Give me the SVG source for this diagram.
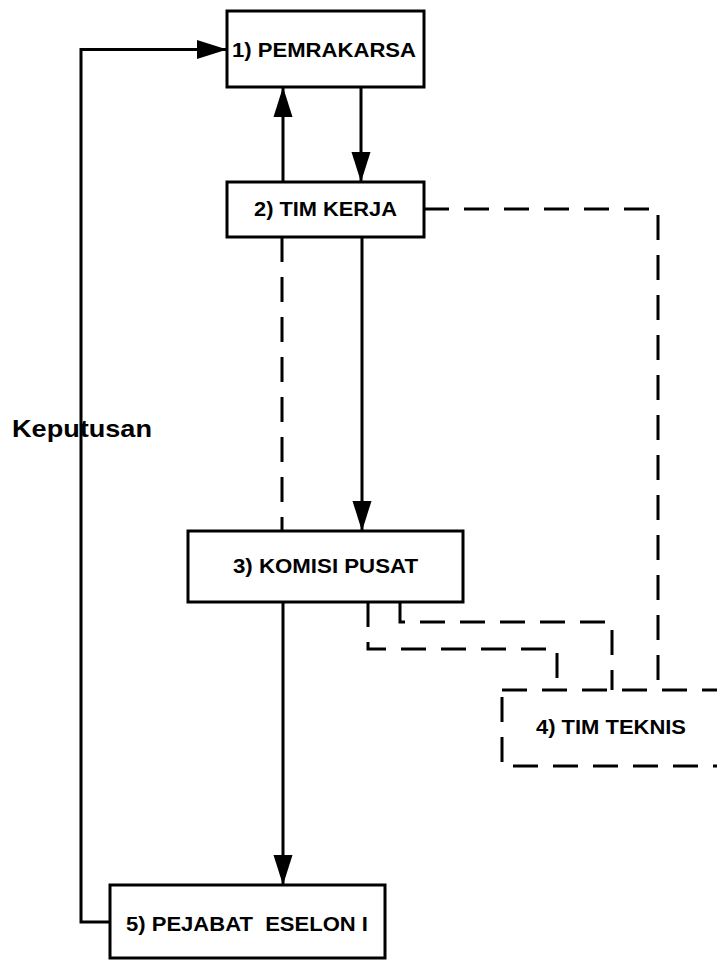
<svg xmlns="http://www.w3.org/2000/svg" width="717" height="961" viewBox="0 0 717 961">
  <style>
    .box { fill: #ffffff; stroke: #000000; stroke-width: 3; }
    .dbox { fill: #ffffff; stroke: #000000; stroke-width: 3; stroke-dasharray: 25 15; }
    .lbl { font-family: "Liberation Sans", Arial, sans-serif; font-weight: bold; font-size: 20px; fill: #000000; text-anchor: middle; }
    .big { font-size: 24px; }
    .line { fill: none; stroke: #000000; stroke-width: 3; }
    .dash { fill: none; stroke: #000000; stroke-width: 3; stroke-dasharray: 25 15; }
  </style>
  <defs>
    <marker id="arrow" markerUnits="userSpaceOnUse" markerWidth="32" markerHeight="22" refX="30" refY="10" orient="auto">
      <path d="M0,0.5 L30,10 L0,19.5 Z" fill="#000000"/>
    </marker>
  </defs>
  <rect width="717" height="961" fill="#ffffff"/>

  <!-- connectors -->
  <g id="connectors">
    <path class="line" d="M110,922 H81 V49.5 H227" marker-end="url(#arrow)"/>
    <path class="line" d="M283,237 V87" marker-end="url(#arrow)"/>
    <path class="line" d="M361,87 V182" marker-end="url(#arrow)"/>
    <path class="line" d="M362,237 V531" marker-end="url(#arrow)"/>
    <path class="dash" d="M282,237 V531"/>
    <path class="line" d="M283,602 V885" marker-end="url(#arrow)"/>
    <path class="dash" d="M424,209 H658 V690"/>
    <path class="dash" d="M368,602 V649 H557 V690"/>
    <path class="dash" d="M400,602 V622 H612 V690"/>
  </g>

  <g id="label-keputusan">
    <text class="lbl big" x="82" y="437" textLength="140" lengthAdjust="spacingAndGlyphs">Keputusan</text>
  </g>

  <g id="node-pemrakarsa">
    <rect class="box" x="227" y="11" width="197" height="76"/>
    <text class="lbl" x="324" y="57" textLength="184" lengthAdjust="spacingAndGlyphs">1) PEMRAKARSA</text>
  </g>

  <g id="node-tim-kerja">
    <rect class="box" x="227" y="182" width="197" height="55"/>
    <text class="lbl" x="325.5" y="216" textLength="143" lengthAdjust="spacingAndGlyphs">2) TIM KERJA</text>
  </g>

  <g id="node-komisi-pusat">
    <rect class="box" x="188" y="531" width="275" height="71"/>
    <text class="lbl" x="325.5" y="573" textLength="185" lengthAdjust="spacingAndGlyphs">3) KOMISI PUSAT</text>
  </g>

  <g id="node-tim-teknis">
    <rect class="dbox" x="502" y="690" width="240" height="76"/>
    <text class="lbl" x="611" y="734" textLength="150" lengthAdjust="spacingAndGlyphs">4) TIM TEKNIS</text>
  </g>

  <g id="node-pejabat-eselon">
    <rect class="box" x="110" y="885" width="275" height="73"/>
    <text class="lbl" x="247" y="931" textLength="242" lengthAdjust="spacingAndGlyphs" xml:space="preserve">5) PEJABAT  ESELON I</text>
  </g>
</svg>
